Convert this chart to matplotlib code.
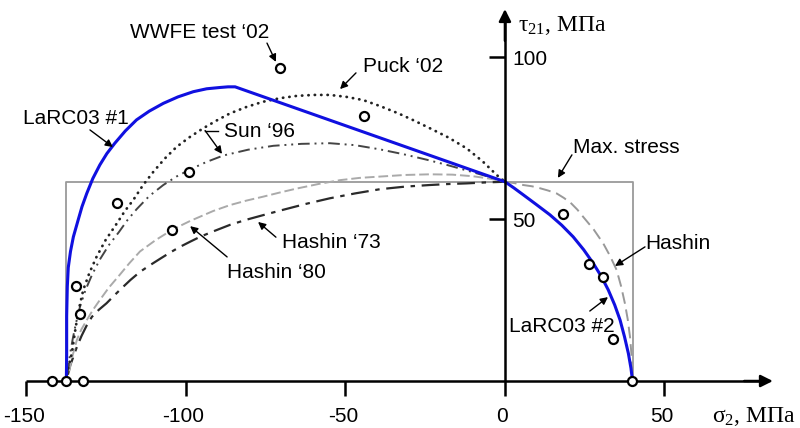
import matplotlib
matplotlib.use("Agg")
import matplotlib.pyplot as plt

plt.rcParams['font.family'] = ['Liberation Sans', 'DejaVu Sans']
plt.rcParams['mathtext.fontset'] = 'custom'
plt.rcParams['mathtext.rm'] = 'Liberation Serif'
plt.rcParams['mathtext.it'] = 'Liberation Serif'

# ---------------- data (sigma2, tau21 in MPa) ----------------
Yc = -137.5
Yt = 40.0
S = 61.5

larc1_x = [-137.5, -137.4, -137.4, -137.2, -136.9, -136.2, -135.3, -133.8, -132.6, -131.1,
           -129.2, -127.0, -124.8, -122.3, -119.0, -115.5, -111.5, -107.1, -102.5, -97.7,
           -93.5, -89.3, -86.8, -84.6, 0.0]
larc1_y = [0.0, 8.5, 20.0, 29.1, 35.0, 40.0, 44.5, 49.7, 53.8, 57.9,
           62.5, 66.7, 70.2, 73.4, 77.2, 80.6, 83.3, 85.7, 87.7, 89.3,
           90.2, 90.6, 90.8, 90.8, 61.5]

larc2_x = [0.0, 2.8, 5.7, 9.8, 14.1, 17.8, 21.4, 24.7, 27.7, 30.2, 32.4, 34.4, 36.1,
           37.5, 38.7, 39.5, 40.0]
larc2_y = [61.5, 59.6, 57.5, 54.5, 51.3, 48.1, 44.5, 40.5, 36.3, 32.3, 28.1, 23.5, 18.8,
           13.6, 8.5, 4.0, 0.0]

puck_x = [-137.3, -136.7, -135.8, -135.2, -134.5, -133.5, -132.2, -130.3, -128.0, -125.2,
          -121.7, -119.2, -116.5, -113.5, -110.2, -106.7, -102.9, -98.8, -94.6, -90.4,
          -86.2, -81.0, -75.8, -70.5, -65.3, -60.0, -54.9, -49.7, -44.4, -39.0,
          -33.4, -28.5, -23.5, -17.8, -12.0, -7.0, -2.6, 0.0]
puck_y = [2.0, 5.0, 8.5, 12.5, 17.0, 22.5, 28.1, 33.3, 38.4, 43.5,
          48.6, 52.4, 55.9, 60.4, 64.6, 68.6, 72.3, 75.3, 78.0, 80.4,
          82.6, 84.6, 86.2, 87.3, 88.0, 88.3, 88.3, 87.7, 86.7, 84.8,
          82.6, 80.4, 78.0, 75.2, 71.8, 67.8, 63.6, 61.5]

sun_x = [-137.2, -136.8, -136.3, -135.5, -134.5, -133.2, -131.5, -129.4, -127.0, -124.2,
         -121.0, -118.4, -115.5, -111.5, -107.1, -103.0, -98.7, -93.6, -88.3, -80.5,
         -72.6, -63.8, -54.9, -47.0, -39.2, -31.8, -24.5, -18.2, -12.0, -6.0, 0.0]
sun_y = [2.0, 5.0, 8.5, 13.0, 17.8, 23.0, 28.1, 32.9, 37.5, 41.9,
         46.0, 49.6, 53.0, 57.1, 60.5, 63.1, 65.3, 67.6, 69.6, 71.4,
         72.6, 73.2, 73.4, 72.8, 71.5, 70.0, 68.3, 66.7, 65.0, 63.3, 61.5]

h80_x = [-136.6, -135.5, -134.2, -132.8, -131.1, -129.2, -127.0, -124.2, -121.0, -117.8,
         -114.4, -109.5, -104.3, -98.7, -91.4, -86.2, -81.0, -75.8, -70.5, -65.3,
         -58.5, -51.7, -45.5, -39.2, -31.3, -23.5, -16.5, -10.0, -5.0, 0.0]
h80_y = [3.0, 8.0, 12.7, 15.9, 18.8, 21.9, 25.0, 28.8, 32.5, 36.3,
         40.0, 43.5, 46.7, 49.4, 52.5, 54.3, 55.7, 56.9, 58.2, 59.4,
         60.8, 62.0, 62.7, 63.1, 63.6, 63.8, 63.7, 63.2, 62.5, 61.5]

h73_x = [-137.0, -136.3, -135.3, -134.1, -132.7, -131.2, -129.5, -127.3, -124.9, -122.6,
         -120.2, -117.4, -114.4, -111.2, -108.0, -104.9, -101.9, -98.7, -95.6, -91.4,
         -86.2, -81.0, -75.8, -70.5, -62.7, -54.9, -47.0, -39.2, -31.3, -23.5,
         -17.8, -12.0, -6.0, 0.0]
h73_y = [2.0, 4.8, 7.5, 10.8, 14.0, 17.0, 19.8, 22.0, 24.0, 26.3,
         28.6, 31.2, 33.7, 35.8, 37.8, 39.7, 41.4, 43.0, 44.5, 46.2,
         48.2, 49.8, 51.2, 52.6, 54.6, 56.4, 57.9, 59.2, 60.0, 60.5,
         60.8, 61.0, 61.3, 61.5]

hashin_x = [0.0, 2.9, 5.7, 8.5, 11.0, 13.5, 16.2, 18.5, 20.8, 22.7, 24.5, 27.8, 30.8,
            33.0, 35.0, 36.4, 37.6, 38.5, 39.2, 39.6, 39.9, 40.0]
hashin_y = [61.5, 61.1, 60.5, 60.1, 59.5, 58.8, 57.9, 56.5, 54.8, 52.9, 50.7, 46.8, 42.5,
            38.5, 34.3, 29.3, 24.0, 19.0, 13.7, 9.0, 4.5, 0.0]

test_x = [-70.5, -44.1, -99.0, -121.7, -104.3, -134.5, -133.2, -141.9, -137.6, -132.2,
          18.2, 26.3, 30.6, 34.0, 39.9]
test_y = [96.5, 81.9, 64.4, 54.8, 46.7, 29.2, 20.7, 0.0, 0.0, 0.0,
          51.4, 36.0, 32.2, 12.9, 0.0]

xticks = [-150, -100, -50, 50]
xticklabels_pos = [-150, -100, -50, 0, 50]
yticks = [50, 100]

# ---------------- figure ----------------
fig = plt.figure(figsize=(8.0, 4.28), dpi=100)
ax = fig.add_axes([0, 0, 1, 1])
ax.set_xlim(-158.3, 92.5)
ax.set_ylim(-14.5, 117.6)
ax.axis('off')

# Max. stress rectangle
ax.plot([Yc, Yc, Yt, Yt], [0, S, S, 0], color='#9a9a9a', lw=1.3, zorder=2)

# criteria curves
ax.plot(h73_x, h73_y, color='#2a2a2a', lw=1.6, linestyle=(0, (8, 3, 2, 3)), zorder=3)
ax.plot(h80_x, h80_y, color='#aaaaaa', lw=1.4, linestyle=(0, (5, 2)), zorder=3)
ax.plot(sun_x, sun_y, color='#444444', lw=1.4, linestyle=(0, (6, 2.5, 1, 2.5, 1, 2.5)), zorder=3)
ax.plot(puck_x, puck_y, color='#222222', lw=2.0, linestyle=(0, (0.1, 2.2)),
        dash_capstyle='round', zorder=3)
ax.plot(hashin_x, hashin_y, color='#999999', lw=1.4, linestyle=(0, (6, 3)), zorder=3)
ax.plot(larc1_x, larc1_y, color='#1010e0', lw=2.2, zorder=4, solid_joinstyle='round')
ax.plot(larc2_x, larc2_y, color='#1010e0', lw=2.2, zorder=4, solid_joinstyle='round')

# test data
ax.plot(test_x, test_y, linestyle='none', marker='o', markersize=6.5,
        markerfacecolor='white', markeredgecolor='black', markeredgewidth=1.6,
        zorder=6, clip_on=False)

# ---------------- axes with arrows ----------------
ax.plot([-150, 80], [0, 0], color='black', lw=1.8, zorder=5, solid_capstyle='butt')
ax.plot([0, 0], [-4.6, 111], color='black', lw=1.8, zorder=5, solid_capstyle='butt')
ax.annotate('', xy=(84.0, 0), xytext=(75, 0),
            arrowprops=dict(arrowstyle='-|>', color='black', lw=1.8,
                            mutation_scale=18, shrinkA=0, shrinkB=0), zorder=5)
ax.annotate('', xy=(0, 114.8), xytext=(0, 105),
            arrowprops=dict(arrowstyle='-|>', color='black', lw=1.8,
                            mutation_scale=18, shrinkA=0, shrinkB=0), zorder=5)
for xt in xticks:
    ax.plot([xt, xt], [0, -4.6], color='black', lw=1.8, zorder=5, solid_capstyle='butt')
for xt in xticklabels_pos:
    ax.text(xt - 0.8, -11.1, f"{xt}", ha='center', va='center', fontsize=15)
for yt in yticks:
    ax.plot([-5.0, 0], [yt, yt], color='black', lw=1.8, zorder=5, solid_capstyle='butt')
    ax.text(2.3, yt - 0.8, f"{yt}", ha='left', va='center', fontsize=15)

ax.text(4.1, 109.6, r'$\mathrm{τ}_{21}$, МПа', ha='left', va='center', fontsize=17,
        family=['Liberation Serif', 'DejaVu Serif'])
ax.text(64.9, -10.8, r'$\mathrm{σ}_{2}$, МПа', ha='left', va='center', fontsize=17,
        family=['Liberation Serif', 'DejaVu Serif'])

# ---------------- annotations ----------------
aprops = dict(arrowstyle='-|>', color='black', lw=1.0, mutation_scale=11,
              shrinkA=0, shrinkB=0)

labels = [
    ("WWFE test \u201802", (-95.6, 107.7), (-74.6, 104.3), (-71.8, 98.5)),
    ("Puck \u201802", (-32.0, 97.2), (-46.7, 95.1), (-51.7, 90.1)),
    ("LaRC03 #1", (-134.6, 80.9), (-130.1, 77.5), (-122.9, 72.2)),
    ("Max. stress", (38.2, 72.2), (21.0, 69.8), (16.6, 62.7)),
    ("Hashin", (54.2, 42.3), (43.9, 41.4), (34.5, 35.5)),
    ("LaRC03 #2", (17.7, 16.7), (26.6, 21.6), (32.3, 25.9)),
    ("Hashin \u201873", (-54.4, 42.9), (-71.8, 44.4), (-77.4, 49.1)),
    ("Hashin \u201880", (-71.6, 33.6), (-87.1, 38.3), (-98.7, 47.8)),
]
for txt, tpos, a0, a1 in labels:
    ax.text(tpos[0], tpos[1], txt, ha='center', va='center', fontsize=15, zorder=7)
    ax.annotate('', xy=a1, xytext=a0, arrowprops=aprops, zorder=7)

# Sun '96 with bent leader
ax.text(-76.8, 76.9, "Sun \u201896", ha='center', va='center', fontsize=15, zorder=7)
ax.plot([-90.0, -94.0], [77.3, 77.3], color='black', lw=1.0, zorder=7)
ax.annotate('', xy=(-88.7, 70.1), xytext=(-94.0, 77.3), arrowprops=aprops, zorder=7)

fig.savefig('out.png', dpi=100)
